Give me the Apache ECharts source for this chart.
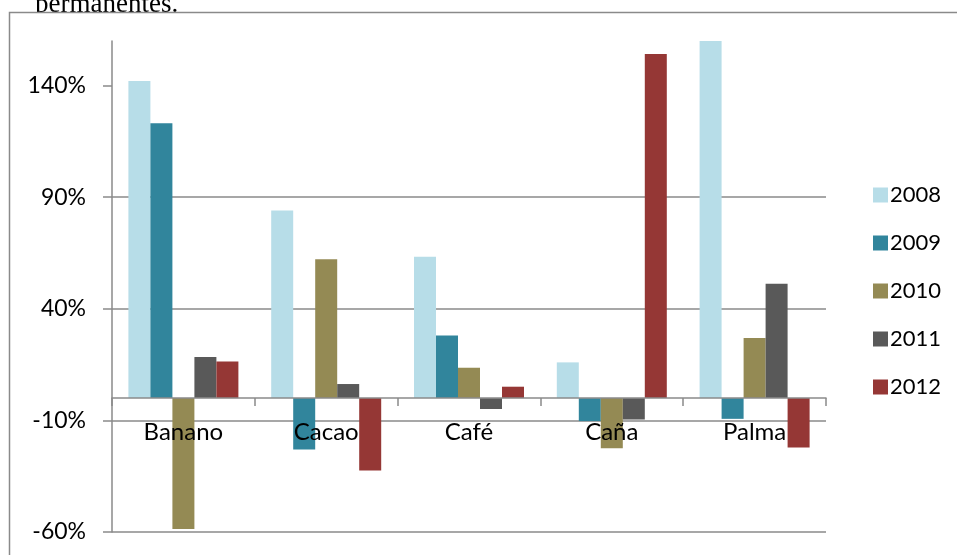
<!DOCTYPE html>
<html>
<head>
<meta charset="utf-8">
<script src="https://cdn.jsdelivr.net/npm/echarts@6/dist/echarts.min.js"></script>
<style>
  html, body { margin: 0; padding: 0; background: #fff; }
  #chart { width: 957px; height: 555px; }
</style>
</head>
<body>
<div id="chart"></div>
<script>
// Variación anual por cultivo permanente (%)
const categories = ['Banano', 'Cacao', 'Café', 'Caña', 'Palma'];
const years = ['2008', '2009', '2010', '2011', '2012'];
const v2008 = [142.1, 84.1, 63.3, 16.0, 160.0];
const v2009 = [123.1, -23.0, 28.1, -10.3, -9.3];
const v2010 = [-58.7, 62.2, 13.6, -22.5, 26.9];
const v2011 = [18.4, 6.3, -4.9, -9.6, 51.2];
const v2012 = [16.4, -32.4, 5.1, 154.2, -22.1];
const yTicks = [-60, -10, 40, 90, 140];

const seriesValues = [v2008, v2009, v2010, v2011, v2012];
const colors = ['#B7DDE8', '#31859C', '#948A54', '#595959', '#953735'];
const font = 'Lato';
const gridGray = '#8a8a8a';

const chart = echarts.init(document.getElementById('chart'), null, { renderer: 'canvas' });

chart.setOption({
  animation: false,
  textStyle: { fontFamily: font },
  graphic: [
    {
      type: 'text', z: -2,
      style: {
        text: 'permanentes.', x: 35, y: 18,
        font: '27px "Liberation Serif"', fill: '#000',
        textVerticalAlign: 'bottom'
      }
    },
    {
      type: 'rect', z: -1,
      shape: { x: 9.5, y: 12.5, width: 1000, height: 600 },
      style: { fill: '#fff', stroke: gridGray, lineWidth: 1.5 }
    }
  ],
  grid: { left: 112, right: 131, top: 41, bottom: 23, containLabel: false, outerBoundsMode: 'none' },
  legend: {
    orient: 'vertical',
    left: 868, top: 177,
    itemWidth: 15, itemHeight: 15,
    itemGap: 22,
    icon: 'rect',
    data: years,
    textStyle: { fontFamily: font, fontSize: 22, color: '#000', lineHeight: 26, padding: [0, 0, 0, -3] }
  },
  xAxis: {
    type: 'category',
    data: categories,
    z: 5,
    axisLine: { onZero: true, lineStyle: { color: gridGray, width: 1.5 } },
    axisTick: { show: true, length: 8, alignWithLabel: false, lineStyle: { color: gridGray, width: 1.5 } },
    axisLabel: { fontFamily: font, fontSize: 24, color: '#000', margin: -112 },
    splitLine: { show: false }
  },
  yAxis: {
    type: 'value',
    min: -60, max: 160, interval: 50,
    axisLine: { show: true, lineStyle: { color: gridGray, width: 1.5 } },
    axisTick: { show: true, length: 9, customValues: yTicks, lineStyle: { color: gridGray, width: 1.5 } },
    axisLabel: {
      fontFamily: font, fontSize: 23, color: '#000', margin: 26,
      customValues: yTicks,
      formatter: v => v + '%'
    },
    splitLine: { show: true, showMaxLine: false, lineStyle: { color: gridGray, width: 1.5 } }
  },
  series: years.map((y, i) => ({
    name: y,
    type: 'bar',
    data: seriesValues[i],
    barWidth: 22,
    barGap: '0%',
    clip: true,
    itemStyle: { color: colors[i] }
  }))
});
</script>
</body>
</html>
